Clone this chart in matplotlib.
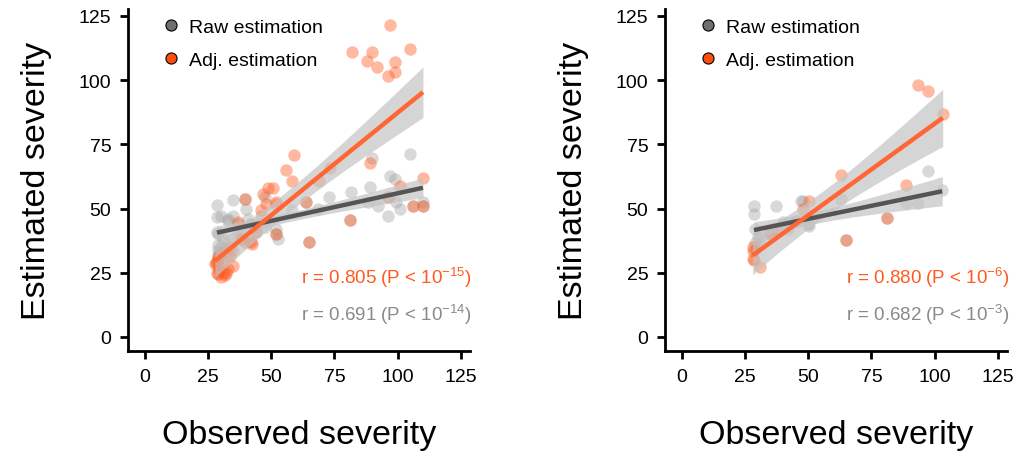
import numpy as np
import matplotlib.pyplot as plt
from matplotlib.lines import Line2D

plt.rcParams['font.family'] = ['Liberation Sans', 'DejaVu Sans']
plt.rcParams['mathtext.fontset'] = 'custom'
plt.rcParams['mathtext.rm'] = 'Liberation Sans'
plt.rcParams['mathtext.it'] = 'Liberation Sans'

# left panel: raw estimation (gray)
raw1_obs = [90, 105, 89, 96.8, 98.8, 110, 100.8, 96.2, 92.2, 88.3, 99.5, 96.2, 106, 110,
            81, 81.7, 72.9, 68.5, 58, 63.6, 64.9, 52, 52.7, 52,
            28.7, 28.7, 34.9, 39.8, 39.5, 47.7, 47.7, 29, 28.8, 32.9, 36.9, 40.8, 36.8,
            31.6, 28.8, 29, 30, 28.5, 31, 33, 35, 42, 44, 46, 29.5, 30, 33, 38, 41]
raw1_est = [69.5, 71.2, 58.2, 62.8, 61.5, 52.6, 49.8, 47, 50.9, 52.4, 52.4, 54.4, 50.9, 50.9,
            45.5, 56.3, 54.4, 49.8, 49.5, 52.4, 36.8, 42, 38.1, 40.1,
            51.5, 46.8, 53.3, 49.8, 53.7, 54.4, 42.8, 40, 34, 45.3, 44, 45.9, 38.9,
            33, 32, 36, 35, 41, 38, 37, 47, 44, 41, 47, 31.5, 47, 46, 39.5, 37.5]

# left panel: adjusted estimation (orange)
adj1_obs = [96.8, 81.8, 90, 87.9, 92, 99.1, 99.1, 96.2, 105, 89, 110, 101, 106, 110, 96.2,
            81, 73.1, 68.9, 63.6, 64.9, 58.9, 55.7, 58, 50.7, 52, 52, 48.7, 46.8, 52, 48.1,
            42.8, 38.2, 42.2, 39.5, 39.5, 36.8, 33.6, 33.6, 29, 28.3, 32.9, 30.3, 29, 31.6,
            27.7, 28.5, 29.5, 30.5, 28.5, 31, 32, 29, 34.8, 32.4, 35, 30, 42, 44, 46]
adj1_est = [121.4, 111, 110.8, 107.3, 105.3, 106.9, 103, 101.7, 112.3, 67.6, 61.9, 58.9, 50.9, 50.9, 54.4,
            45.5, 65.6, 60.6, 52.4, 36.8, 70.9, 65.1, 60.6, 58, 51.8, 40.1, 58, 55.6, 52.4, 51.8,
            42.7, 38.1, 36.2, 53.7, 37, 44.7, 35, 31.6, 31, 29, 26.5, 23.2, 24.5, 24,
            28.4, 29.5, 26, 28, 25, 25, 25, 28.5, 27.6, 31.1, 34, 33, 37, 41, 49.5]

# right panel
raw2_obs = [97.2, 103, 88.5, 93.3, 62.8, 47.8, 50.2, 37.2, 28.5, 28.5, 28.9, 28.9,
            40, 47.3, 49.9, 34.8, 81, 64.8, 29, 31, 30, 36, 45, 42]
raw2_est = [64.6, 57.2, 52.1, 52.1, 53.7, 52.9, 43.2, 51, 51.1, 47.9, 42, 36.5,
            44.6, 53, 44, 40.1, 46.3, 37.7, 34, 37, 39, 42, 45, 42]
adj2_obs = [93.3, 97.2, 103.2, 62.8, 88.5, 50.2, 47.8, 81, 64.8, 28, 28.5, 30.8,
            34.8, 28.2, 28.2, 35.5, 37.8, 40]
adj2_est = [98, 95.7, 86.8, 63, 59.1, 52.9, 49.8, 46.3, 37.7, 35, 30, 27.2,
            40, 33.6, 30.4, 40.7, 42, 43]

r_labels = [("r = 0.805 (P < 10$^{-15}$)", "r = 0.691 (P < 10$^{-14}$)"),
            ("r = 0.880 (P < 10$^{-6}$)", "r = 0.682 (P < 10$^{-3}$)")]

orange = '#FF5A1F'
orange_line = '#FF6633'
gray_pt = '#A0A0A0'
gray_line = '#555555'


def fit_band(ax, x, y, color):
    x = np.asarray(x)
    y = np.asarray(y)
    b, a = np.polyfit(x, y, 1)
    xs = np.linspace(x.min(), x.max(), 100)
    ys = a + b * xs
    n = len(x)
    resid = y - (a + b * x)
    s = np.sqrt(np.sum(resid ** 2) / (n - 2))
    se = s * np.sqrt(1 / n + (xs - x.mean()) ** 2 / np.sum((x - x.mean()) ** 2))
    ax.fill_between(xs, ys - 2 * se, ys + 2 * se, color='#c4c4c4', alpha=0.7, lw=0, zorder=3)
    ax.plot(xs, ys, color=color, lw=3.2, zorder=4, solid_capstyle='butt')


fig = plt.figure(figsize=(10.23, 4.64), dpi=100)
axes = [fig.add_axes([0.1251, 0.2414, 0.3343, 0.7371]),
        fig.add_axes([0.6500, 0.2414, 0.3343, 0.7371])]
data = [(raw1_obs, raw1_est, adj1_obs, adj1_est), (raw2_obs, raw2_est, adj2_obs, adj2_est)]

for ax, (rx, ry, ax_, ay), (t_adj, t_raw) in zip(axes, data, r_labels):
    ax.scatter(rx, ry, s=80, color=gray_pt, alpha=0.4, lw=0, zorder=2)
    ax.scatter(ax_, ay, s=80, color=orange, alpha=0.42, lw=0, zorder=2)
    fit_band(ax, rx, ry, gray_line)
    fit_band(ax, ax_, ay, orange_line)

    ax.set_xlim(-6.7, 128.6)
    ax.set_ylim(-5.45, 127.7)
    ax.set_xticks([0, 25, 50, 75, 100, 125])
    ax.set_yticks([0, 25, 50, 75, 100, 125])
    for side in ['top', 'right']:
        ax.spines[side].set_visible(False)
    for side in ['left', 'bottom']:
        ax.spines[side].set_linewidth(2)
    ax.tick_params(width=2, length=6, labelsize=14, pad=6)

    ax.set_xlabel("Observed severity", fontsize=24.5)
    ax.set_ylabel("Estimated severity", fontsize=24.5, va='center')
    ax.xaxis.set_label_coords(0.5, -0.2)
    ax.yaxis.set_label_coords(-0.268, 0.5)

    ax.text(1.006, 0.216, t_adj, transform=ax.transAxes, ha='right', va='center',
            fontsize=13.5, color=orange)
    ax.text(1.006, 0.108, t_raw, transform=ax.transAxes, ha='right', va='center',
            fontsize=13.5, color='#8a8a8a')

    handles = [Line2D([], [], ls='', marker='o', ms=8, mfc='#707070', mec='black', mew=0.8),
               Line2D([], [], ls='', marker='o', ms=8, mfc='#FF4D0F', mec='black', mew=0.8)]
    ax.legend(handles, ["Raw estimation", "Adj. estimation"], loc='upper left',
              bbox_to_anchor=(0.045, 1.025), frameon=False, fontsize=14,
              handletextpad=0.45, labelspacing=0.8, handlelength=1.0)

fig.savefig('out.png', dpi=100)
